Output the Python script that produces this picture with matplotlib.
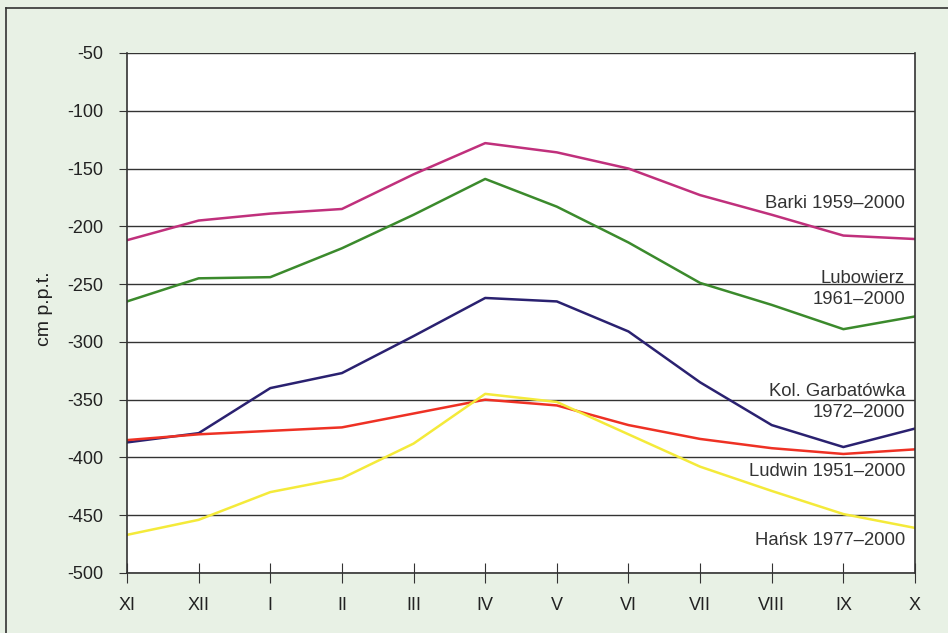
import matplotlib.pyplot as plt
from matplotlib.lines import Line2D

plt.rcParams['font.family'] = ['Liberation Sans', 'DejaVu Sans']
plt.rcParams['axes.unicode_minus'] = False

months = ['XI', 'XII', 'I', 'II', 'III', 'IV', 'V', 'VI', 'VII', 'VIII', 'IX', 'X']

barki = [-212, -195, -189, -185, -155, -128, -136, -150, -173, -190, -208, -211]
lubowierz = [-265, -245, -244, -219, -190, -159, -183, -214, -249, -268, -289, -278]
garbatowka = [-387, -379, -340, -327, -295, -262, -265, -291, -335, -372, -391, -375]
ludwin = [-385, -380, -377, -374, -362, -350, -355, -372, -384, -392, -397, -393]
hansk = [-467, -454, -430, -418, -388, -345, -352, -380, -408, -429, -449, -461]

# (values, colour, label text, label y position)
series = [
    (barki, '#c0307c', 'Barki 1959–2000', -180),
    (lubowierz, '#3b8a2c', 'Lubowierz\n1961–2000', -254),
    (garbatowka, '#2a2170', 'Kol. Garbatówka\n1972–2000', -352),
    (ludwin, '#ee3124', 'Ludwin 1951–2000', -412),
    (hansk, '#f4ea3a', 'Hańsk 1977–2000', -472),
]

fig = plt.figure(figsize=(9.48, 6.33), dpi=100)
fig.patch.set_facecolor('#e8f1e5')
ax = fig.add_axes([0.134, 0.0948, 0.8312, 0.8215])
ax.set_facecolor('white')

x = list(range(len(months)))
for vals, color, label, ly in series:
    ax.plot(x, vals, color=color, lw=1.8)
    ax.text(10.86, ly, label, ha='right', va='center', fontsize=13.3,
            color='#333333', linespacing=1.3)

ax.set_xlim(0, 11)
ax.set_ylim(-500, -50)
ax.set_yticks(range(-500, -49, 50))
ax.set_xticks(x)
ax.set_xticklabels(months)
ax.yaxis.grid(True, color='#333333', lw=1)
ax.set_axisbelow(True)
ax.tick_params(axis='y', direction='out', length=6, labelsize=13, pad=11,
               color='#333333', labelcolor='#222222')
ax.tick_params(axis='x', direction='inout', length=14, labelsize=13, pad=10,
               color='#333333', labelcolor='#222222')
for s in ax.spines.values():
    s.set_color('#333333')
    s.set_linewidth(1.2)
ax.spines['top'].set_visible(False)
ax.set_ylabel('cm p.p.t.', fontsize=14, color='#222222')
ax.yaxis.set_label_coords(-0.094, 0.508)

# outer frame around the figure
fig.add_artist(Line2D([6 / 948, 6 / 948], [0, 1 - 8 / 633], color='#333333', lw=1.2))
fig.add_artist(Line2D([6 / 948, 1], [1 - 8 / 633, 1 - 8 / 633], color='#333333', lw=1.2))

fig.savefig('out.png', dpi=100, facecolor=fig.get_facecolor())
